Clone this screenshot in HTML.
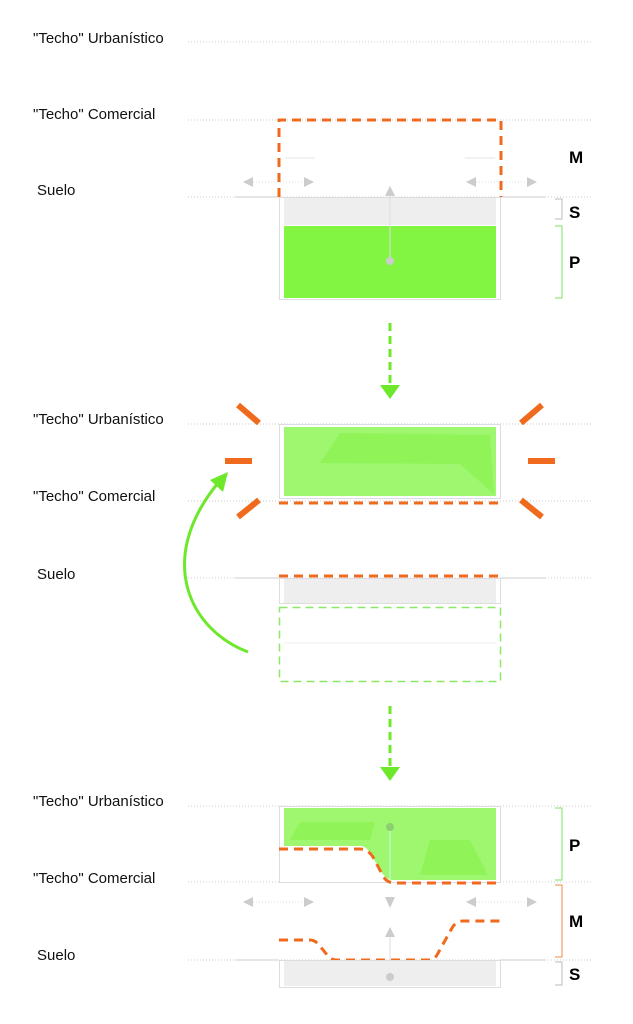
<!DOCTYPE html>
<html><head><meta charset="utf-8"><style>
html,body{margin:0;padding:0;background:#fff;}
svg{display:block;}
text{font-family:"Liberation Sans",sans-serif;}
.lb{font-size:15px;fill:#111;}
.bl{font-size:17px;font-weight:bold;fill:#000;}
</style></head><body>
<svg width="633" height="1024" viewBox="0 0 633 1024" xmlns="http://www.w3.org/2000/svg">
<defs>
<marker id="ga" markerWidth="4" markerHeight="4" refX="2" refY="2" orient="auto" markerUnits="userSpaceOnUse"></marker>
</defs>
<g stroke="#ccc" stroke-width="1" stroke-dasharray="1,2" fill="none">
<line x1="188" y1="42" x2="592" y2="42"/>
<line x1="188" y1="120" x2="592" y2="120"/>
<line x1="188" y1="197" x2="592" y2="197"/>
<line x1="188" y1="424" x2="592" y2="424"/>
<line x1="188" y1="501" x2="592" y2="501"/>
<line x1="188" y1="578" x2="592" y2="578"/>
<line x1="188" y1="806" x2="592" y2="806"/>
<line x1="188" y1="882" x2="592" y2="882"/>
<line x1="188" y1="960" x2="592" y2="960"/>
</g>
<text class="lb" x="33" y="43">"Techo" Urbanístico</text>
<text class="lb" x="33" y="119">"Techo" Comercial</text>
<text class="lb" x="37" y="195">Suelo</text>
<text class="lb" x="33" y="424">"Techo" Urbanístico</text>
<text class="lb" x="33" y="501">"Techo" Comercial</text>
<text class="lb" x="37" y="579">Suelo</text>
<text class="lb" x="33" y="806">"Techo" Urbanístico</text>
<text class="lb" x="33" y="883">"Techo" Comercial</text>
<text class="lb" x="37" y="960">Suelo</text>

<!-- Panel 1 -->
<line x1="235" y1="197" x2="279" y2="197" stroke="#ccc"/>
<line x1="501" y1="197" x2="545" y2="197" stroke="#ccc"/>
<rect x="279.5" y="197.5" width="221" height="102" fill="#fff" stroke="#ddd"/>
<rect x="284" y="198" width="212" height="27" fill="#eee"/>
<rect x="284" y="226" width="212" height="72" fill="#82f542"/>
<line x1="390" y1="196" x2="390" y2="261" stroke="#ddd"/>
<circle cx="390" cy="261" r="4" fill="#ccc"/>
<polygon points="390,186 385,196 395,196" fill="#ccc"/>
<line x1="285" y1="158" x2="315" y2="158" stroke="#e5e5e5"/>
<line x1="465" y1="158" x2="495" y2="158" stroke="#e5e5e5"/>
<g fill="#ccc">
<line x1="250" y1="182" x2="308" y2="182" stroke="#ddd" stroke-dasharray="1,2"/>
<polygon points="243,182 253,177 253,187"/><polygon points="314,182 304,177 304,187"/>
<line x1="473" y1="182" x2="531" y2="182" stroke="#ddd" stroke-dasharray="1,2"/>
<polygon points="466,182 476,177 476,187"/><polygon points="537,182 527,177 527,187"/>
</g>
<path d="M279,197 V120 H501 V197" fill="none" stroke="#f06a1e" stroke-width="3" stroke-dasharray="9,6"/>
<path d="M555,199 H562 V219 H555" fill="none" stroke="#bbb"/>
<path d="M555,226 H562 V298 H555" fill="none" stroke="#7ee060"/>
<text class="bl" x="569" y="163">M</text>
<text class="bl" x="569" y="218">S</text>
<text class="bl" x="569" y="268">P</text>

<line x1="390" y1="323" x2="390" y2="386" stroke="#6ee82a" stroke-width="3" stroke-dasharray="8,5"/>
<polygon points="380,385 400,385 390,399" fill="#6ee82a"/>

<!-- Panel 2 -->
<rect x="279.5" y="424.5" width="221" height="74" fill="#fff" stroke="#ddd"/>
<rect x="284" y="427" width="212" height="69" fill="#9ef76e"/>
<polygon points="320,463 340,433 490,435 494,494 460,464" fill="#8af24e" opacity="0.7"/>
<line x1="279" y1="503" x2="501" y2="503" stroke="#f06a1e" stroke-width="3" stroke-dasharray="9,6"/>
<g stroke="#f06a1e" stroke-width="6">
<line x1="238" y1="405" x2="259" y2="423"/>
<line x1="225" y1="461" x2="252" y2="461"/>
<line x1="238" y1="517" x2="259" y2="500"/>
<line x1="542" y1="405" x2="521" y2="423"/>
<line x1="528" y1="461" x2="555" y2="461"/>
<line x1="542" y1="517" x2="521" y2="500"/>
</g>
<line x1="235" y1="578" x2="279" y2="578" stroke="#ccc"/>
<line x1="501" y1="578" x2="545" y2="578" stroke="#ccc"/>
<rect x="279.5" y="578.5" width="221" height="25" fill="#fff" stroke="#ddd"/>
<rect x="284" y="579" width="212" height="24" fill="#eee"/>
<line x1="279" y1="576" x2="501" y2="576" stroke="#f06a1e" stroke-width="3" stroke-dasharray="9,6"/>
<rect x="279.5" y="607.5" width="221" height="74" fill="none" stroke="#8ee868" stroke-width="1.5" stroke-dasharray="8,5"/>
<line x1="284" y1="643" x2="496" y2="643" stroke="#eee"/>
<path d="M248,652 C190,630 155,560 218,483" fill="none" stroke="#6ee82a" stroke-width="3"/>
<polygon points="228,472 210,480 223,492" fill="#6ee82a"/>

<line x1="390" y1="706" x2="390" y2="768" stroke="#6ee82a" stroke-width="3" stroke-dasharray="8,5"/>
<polygon points="380,767 400,767 390,781" fill="#6ee82a"/>

<!-- Panel 3 -->
<rect x="279.5" y="806.5" width="221" height="76" fill="#fff" stroke="#ddd"/>
<path d="M284,808 H496 V880 H392 Q385,880 378,866 L370,853 Q366,846 360,846 H284 Z" fill="#9ef76e"/>
<polygon points="300,822 375,822 370,840 290,840" fill="#8af24e" opacity="0.7"/>
<polygon points="430,840 470,840 488,875 420,875" fill="#8af24e" opacity="0.7"/>
<line x1="390" y1="830" x2="390" y2="880" stroke="#cfe" />
<circle cx="390" cy="827" r="4" fill="#8ccf70"/>
<path d="M279,849 H360 Q368,849 373,857 L383,876 Q387,883 395,883 H501" fill="none" stroke="#f06a1e" stroke-width="3" stroke-dasharray="9,6"/>
<g fill="#ccc">
<line x1="250" y1="902" x2="308" y2="902" stroke="#ddd" stroke-dasharray="1,2"/>
<polygon points="243,902 253,897 253,907"/><polygon points="314,902 304,897 304,907"/>
<line x1="473" y1="902" x2="531" y2="902" stroke="#ddd" stroke-dasharray="1,2"/>
<polygon points="466,902 476,897 476,907"/><polygon points="537,902 527,897 527,907"/>
<polygon points="390,908 385,897 395,897"/>
<polygon points="390,927 385,937 395,937"/>
</g>
<line x1="390" y1="937" x2="390" y2="977" stroke="#ddd"/>
<path d="M279,940 H310 Q315,940 319,945 L328,956 Q331,960 337,960 H430 Q434,960 437,955 L452,928 Q456,921 463,921 H501" fill="none" stroke="#f06a1e" stroke-width="3" stroke-dasharray="9,6"/>
<line x1="235" y1="960" x2="279" y2="960" stroke="#ccc"/>
<line x1="501" y1="960" x2="545" y2="960" stroke="#ccc"/>
<rect x="279.5" y="960.5" width="221" height="27" fill="#fff" stroke="#ddd"/>
<rect x="284" y="961" width="212" height="25" fill="#eee"/>
<circle cx="390" cy="977" r="4" fill="#ccc"/>
<path d="M555,808 H562 V880 H555" fill="none" stroke="#7ee060"/>
<path d="M555,885 H562 V957 H555" fill="none" stroke="#f08a4e"/>
<path d="M555,962 H562 V985 H555" fill="none" stroke="#bbb"/>
<text class="bl" x="569" y="851">P</text>
<text class="bl" x="569" y="927">M</text>
<text class="bl" x="569" y="980">S</text>
</svg>
</body></html>
